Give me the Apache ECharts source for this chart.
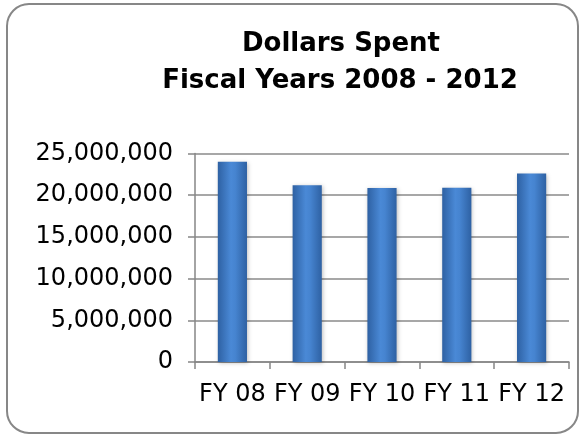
<!DOCTYPE html>
<html>
<head>
<meta charset="utf-8">
<script src="https://cdn.jsdelivr.net/npm/echarts@6/dist/echarts.min.js"></script>
<style>
html,body{margin:0;padding:0;background:#fff;}
#c{width:579px;height:434px;}
</style>
</head>
<body>
<div id="c"></div>
<script>
const categories = ["FY 08", "FY 09", "FY 10", "FY 11", "FY 12"];
const dollarsSpent = [24000000, 21200000, 20850000, 20900000, 22600000];
const titleLines = ["Dollars Spent", "Fiscal Years 2008 - 2012"];

const chart = echarts.init(document.getElementById('c'), null, {renderer: 'canvas'});
const fmt = v => String(v).replace(/\B(?=(\d{3})+(?!\d))/g, ',');

chart.setOption({
  animation: false,
  backgroundColor: '#fff',
  title: [
    {text: titleLines[0], left: 336, top: 26, textAlign: 'center',
     textStyle: {fontFamily: 'DejaVu Sans', fontWeight: 'bold', fontSize: 26, color: '#000'}},
    {text: titleLines[1], left: 335, top: 63, textAlign: 'center',
     textStyle: {fontFamily: 'DejaVu Sans', fontWeight: 'bold', fontSize: 26, color: '#000'}}
  ],
  graphic: [{
    type: 'rect', silent: true,
    shape: {x: 7, y: 4, width: 571, height: 429, r: 22},
    style: {fill: 'none', stroke: '#878787', lineWidth: 2}
  }],
  grid: {left: 195, right: 10, top: 153.5, bottom: 72, containLabel: false},
  xAxis: {
    type: 'category', data: categories,
    axisLine: {lineStyle: {color: '#868686', width: 1.5}},
    axisTick: {show: true, length: 7, alignWithLabel: false, lineStyle: {color: '#868686', width: 1.5}},
    axisLabel: {fontFamily: 'DejaVu Sans', fontSize: 24, color: '#000', margin: 21, interval: 0}
  },
  yAxis: {
    type: 'value', min: 0, max: 25000000, interval: 5000000,
    axisLine: {show: true, lineStyle: {color: '#868686', width: 1.5}},
    axisTick: {show: true, length: 7, lineStyle: {color: '#868686', width: 1.5}},
    axisLabel: {fontFamily: 'DejaVu Sans', fontSize: 24, color: '#000', margin: 22, formatter: fmt},
    splitLine: {show: true, lineStyle: {color: '#8a8a8a', width: 1.5}}
  },
  series: [{
    type: 'bar', data: dollarsSpent, barWidth: '39%',
    itemStyle: {
      color: new echarts.graphic.LinearGradient(0, 0, 1, 0, [
        {offset: 0, color: '#2e61a3'},
        {offset: 0.45, color: '#4a89d6'},
        {offset: 0.6, color: '#4684d0'},
        {offset: 1, color: '#2e61a3'}
      ]),
      shadowColor: 'rgba(0,0,0,0.25)', shadowBlur: 4, shadowOffsetX: 1, shadowOffsetY: 1
    }
  }]
});
</script>
</body>
</html>
